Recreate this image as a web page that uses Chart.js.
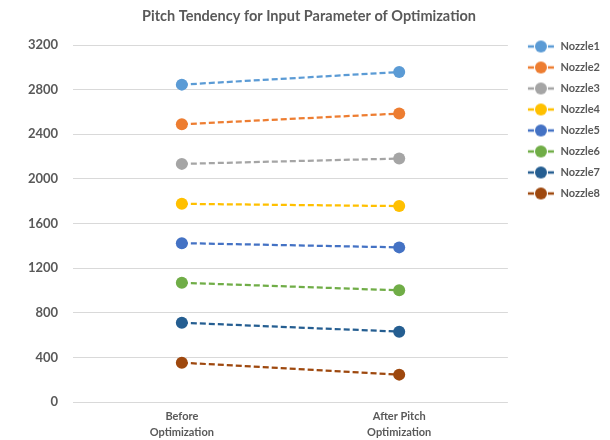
<!DOCTYPE html>
<html>
<head>
<meta charset="utf-8">
<script src="https://cdn.jsdelivr.net/npm/chart.js@4.4.0/dist/chart.umd.min.js"></script>
<style>
  html, body { margin: 0; padding: 0; background: #fff; }
  #wrap { width: 610px; height: 440px; }
</style>
</head>
<body>
<div id="wrap"><canvas id="pitch-chart"></canvas></div>
<script>
const stages = [["Before", "Optimization"], ["After Pitch", "Optimization"]];
const nozzles = ["Nozzle1", "Nozzle2", "Nozzle3", "Nozzle4", "Nozzle5", "Nozzle6", "Nozzle7", "Nozzle8"];
const nozzle1 = [2845, 2958];
const nozzle2 = [2490, 2586];
const nozzle3 = [2135, 2183];
const nozzle4 = [1777, 1757];
const nozzle5 = [1425, 1387];
const nozzle6 = [1070, 1002];
const nozzle7 = [712, 632];
const nozzle8 = [354, 247];
const colors = ["#5B9BD5", "#ED7D31", "#A5A5A5", "#FFC000", "#4472C4", "#70AD47", "#255E91", "#9E480E"];

const series = [nozzle1, nozzle2, nozzle3, nozzle4, nozzle5, nozzle6, nozzle7, nozzle8];
const textGray = "#595959";

// "dash - dot - dash" marker for each legend entry (left side kept blank as spacing)
function legendMarker(color) {
  const c = document.createElement("canvas");
  c.width = 37; c.height = 14;
  const g = c.getContext("2d");
  g.strokeStyle = color;
  g.lineWidth = 2.5;
  g.setLineDash([6, 4]);
  g.beginPath();
  g.moveTo(10, 7); g.lineTo(36, 7);
  g.stroke();
  g.fillStyle = color;
  g.beginPath();
  g.arc(23, 7, 6, 0, Math.PI * 2);
  g.fill();
  return c;
}
const markers = colors.map(legendMarker);

// title across the top, legend pulled up beside the plot
const chartDecor = {
  id: "chartDecor",
  afterLayout(chart) {
    const lg = chart.legend;
    if (lg) { lg.top -= 14; lg.bottom -= 14; }
  },
  afterDraw(chart) {
    const ctx = chart.ctx;
    ctx.save();
    ctx.font = "bold 14.5px Lato";
    ctx.fillStyle = textGray;
    ctx.textAlign = "center";
    ctx.textBaseline = "middle";
    ctx.fillText("Pitch Tendency for Input Parameter of Optimization", 309, 16);
    ctx.restore();
  }
};

new Chart(document.getElementById("pitch-chart"), {
  type: "line",
  data: {
    labels: stages,
    datasets: series.map((d, i) => ({
      label: nozzles[i],
      data: d,
      borderColor: colors[i],
      backgroundColor: colors[i],
      borderWidth: 2.25,
      borderDash: [6, 3],
      pointRadius: 6,
      pointHoverRadius: 6,
      pointBorderWidth: 0,
      fill: false
    }))
  },
  options: {
    responsive: true,
    maintainAspectRatio: false,
    animation: false,
    layout: { padding: { top: 45, left: 13, right: 0, bottom: -7 } },
    scales: {
      x: {
        offset: true,
        grid: { display: false, drawTicks: false },
        border: { display: false },
        ticks: {
          color: textGray,
          font: { family: "Lato", size: 11, weight: "bold", lineHeight: 1.4 },
          padding: 7
        }
      },
      y: {
        min: 0,
        max: 3200,
        ticks: {
          stepSize: 400,
          color: textGray,
          font: { family: "Lato", size: 13, weight: "bold" },
          padding: 15,
          callback: v => String(v)
        },
        grid: { color: "#d9d9d9", lineWidth: 1, drawTicks: false },
        border: { display: false }
      }
    },
    plugins: {
      title: { display: false },
      tooltip: { enabled: false },
      legend: {
        position: "right",
        align: "start",
        labels: {
          color: textGray,
          font: { family: "Lato", size: 11, weight: "bold" },
          usePointStyle: true,
          pointStyleWidth: 37,
          padding: 10,
          generateLabels(chart) {
            return chart.data.datasets.map((ds, i) => ({
              text: ds.label,
              fillStyle: ds.backgroundColor,
              strokeStyle: ds.borderColor,
              pointStyle: markers[i],
              fontColor: textGray,
              lineWidth: 0,
              hidden: false,
              datasetIndex: i
            }));
          }
        }
      }
    }
  },
  plugins: [chartDecor]
});
</script>
</body>
</html>
